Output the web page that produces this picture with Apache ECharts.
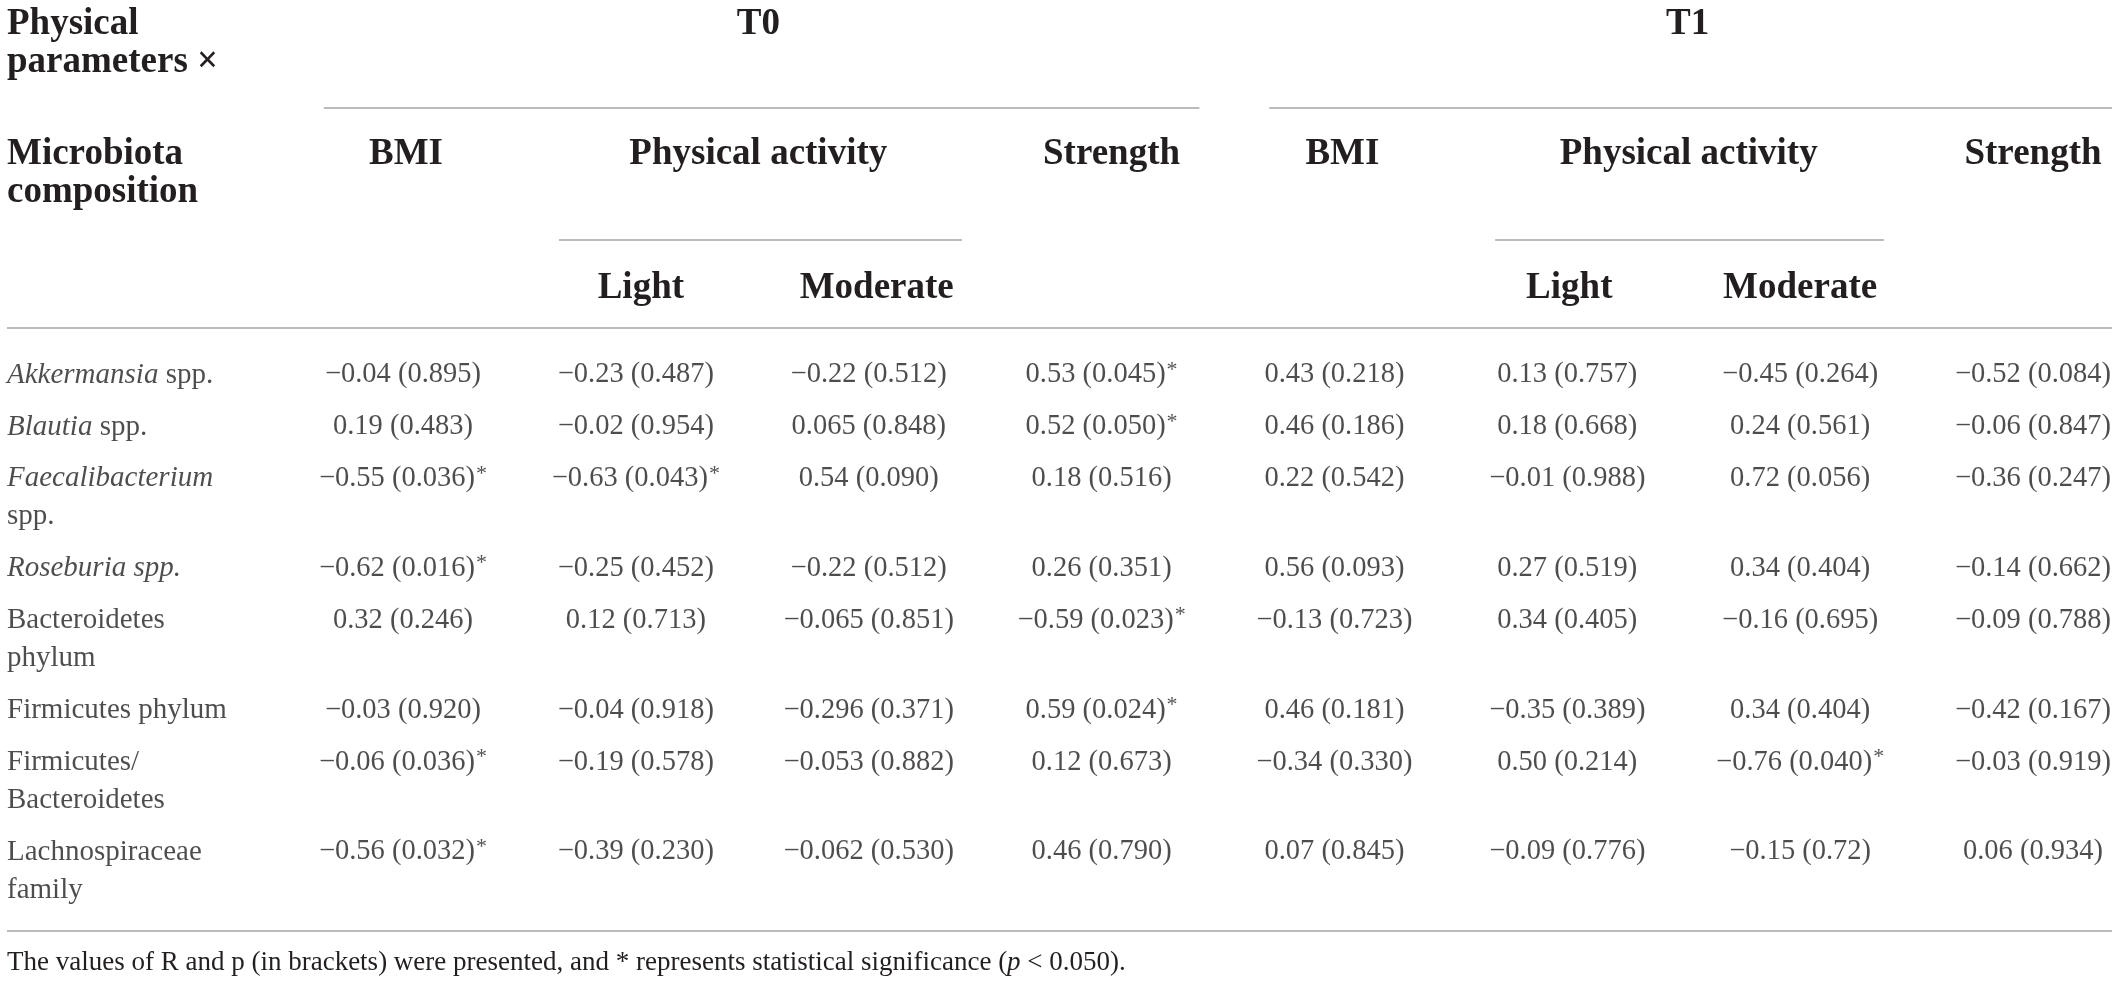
<!DOCTYPE html>
<html>
<head>
<meta charset="utf-8">
<script src="https://cdn.jsdelivr.net/npm/echarts@6/dist/echarts.min.js"></script>
<style>
  html, body { margin: 0; padding: 0; background: #fff; }
  #main { width: 2118px; height: 984px; }
</style>
</head>
<body>
<div id="main"></div>
<script>
// columns of the table
const columns = ['T0 BMI', 'T0 Light', 'T0 Moderate', 'T0 Strength', 'T1 BMI', 'T1 Light', 'T1 Moderate', 'T1 Strength'];

// row labels ({i|...} = italic)
const rowLabels = [
    '{i|Akkermansia} spp.',
    '{i|Blautia} spp.',
    '{i|Faecalibacterium}\nspp.',
    '{i|Roseburia spp.}',
    'Bacteroidetes\nphylum',
    'Firmicutes phylum',
    'Firmicutes/\nBacteroidetes',
    'Lachnospiraceae\nfamily'
];

// R (p), * = significant
const t0Bmi = ['−0.04 (0.895)', '0.19 (0.483)', '−0.55 (0.036)*', '−0.62 (0.016)*', '0.32 (0.246)', '−0.03 (0.920)', '−0.06 (0.036)*', '−0.56 (0.032)*'];
const t0Light = ['−0.23 (0.487)', '−0.02 (0.954)', '−0.63 (0.043)*', '−0.25 (0.452)', '0.12 (0.713)', '−0.04 (0.918)', '−0.19 (0.578)', '−0.39 (0.230)'];
const t0Moderate = ['−0.22 (0.512)', '0.065 (0.848)', '0.54 (0.090)', '−0.22 (0.512)', '−0.065 (0.851)', '−0.296 (0.371)', '−0.053 (0.882)', '−0.062 (0.530)'];
const t0Strength = ['0.53 (0.045)*', '0.52 (0.050)*', '0.18 (0.516)', '0.26 (0.351)', '−0.59 (0.023)*', '0.59 (0.024)*', '0.12 (0.673)', '0.46 (0.790)'];
const t1Bmi = ['0.43 (0.218)', '0.46 (0.186)', '0.22 (0.542)', '0.56 (0.093)', '−0.13 (0.723)', '0.46 (0.181)', '−0.34 (0.330)', '0.07 (0.845)'];
const t1Light = ['0.13 (0.757)', '0.18 (0.668)', '−0.01 (0.988)', '0.27 (0.519)', '0.34 (0.405)', '−0.35 (0.389)', '0.50 (0.214)', '−0.09 (0.776)'];
const t1Moderate = ['−0.45 (0.264)', '0.24 (0.561)', '0.72 (0.056)', '0.34 (0.404)', '−0.16 (0.695)', '0.34 (0.404)', '−0.76 (0.040)*', '−0.15 (0.72)'];
const t1Strength = ['−0.52 (0.084)', '−0.06 (0.847)', '−0.36 (0.247)', '−0.14 (0.662)', '−0.09 (0.788)', '−0.42 (0.167)', '−0.03 (0.919)', '0.06 (0.934)'];

const columnValues = [t0Bmi, t0Light, t0Moderate, t0Strength, t1Bmi, t1Light, t1Moderate, t1Strength];

const FONT = 'Liberation Serif';
const INK = '#231f20';
const RULE = '#a4a4a4';
const LINE_H = 38;
const ROW_GAP = 0.37;   // padding between rows, in lines
const HEAD_FONT = 'bold 37px "' + FONT + '"';

// row position = lines used by the rows above
const rowPos = [];
let acc = 0;
rowLabels.forEach(function (l) {
    rowPos.push(acc);
    acc += l.split('\n').length + ROW_GAP;
});
const yMax = rowPos[rowPos.length - 1];

const cellData = [];
columns.forEach(function (c, ci) {
    columnValues[ci].forEach(function (v, ri) {
        cellData.push([c, rowPos[ri], v]);
    });
});
const labelData = rowLabels.map(function (l, ri) { return [0, rowPos[ri], l]; });

function cellText(v) {
    if (v.charAt(v.length - 1) === '*') {
        return '{v|' + v.slice(0, -1) + '}{s|*}';
    }
    return '{v|' + v + '}';
}

const chart = echarts.init(document.getElementById('main'));
chart.setOption({
    animation: false,
    backgroundColor: '#fff',
    grid: [
        { left: 403, right: 85, top: 375, bottom: 132 },
        { left: 7, width: 300, top: 375, bottom: 132 }
    ],
    xAxis: [
        { type: 'category', data: columns, boundaryGap: false, show: false, gridIndex: 0 },
        { type: 'value', min: 0, max: 1, show: false, gridIndex: 1 }
    ],
    yAxis: [
        { type: 'value', inverse: true, min: 0, max: yMax, show: false, gridIndex: 0 },
        { type: 'value', inverse: true, min: 0, max: yMax, show: false, gridIndex: 1 }
    ],
    series: [
        {
            name: 'cells',
            type: 'scatter',
            xAxisIndex: 0,
            yAxisIndex: 0,
            symbolSize: 0,
            silent: true,
            data: cellData,
            label: {
                show: true,
                position: 'inside',
                formatter: function (p) { return cellText(p.data[2]); },
                rich: {
                    v: { fontFamily: FONT, fontSize: 28.5, color: INK },
                    s: { fontFamily: FONT, fontSize: 22, color: INK, verticalAlign: 'top', padding: [0, 0, 10, 1] }
                }
            }
        },
        {
            name: 'rows',
            type: 'scatter',
            xAxisIndex: 1,
            yAxisIndex: 1,
            symbolSize: 0,
            silent: true,
            data: labelData,
            label: {
                show: true,
                position: 'right',
                distance: 0,
                align: 'left',
                verticalAlign: 'top',
                offset: [0, -LINE_H / 2],
                fontFamily: FONT,
                fontSize: 29,
                color: INK,
                lineHeight: LINE_H,
                formatter: function (p) { return p.data[2]; },
                rich: {
                    i: { fontFamily: FONT, fontSize: 29, fontStyle: 'italic', color: INK, lineHeight: LINE_H }
                }
            }
        }
    ]
});

// header and rules, placed from the column axis
const px = function (name) { return chart.convertToPixel({ xAxisIndex: 0 }, name); };
const step = px(columns[1]) - px(columns[0]);
const W = chart.getWidth();
const HEAD = { groupY: 24, mainY: 154, subY: 288, groupRule: 108, subRule: 240, topRule: 328, bottomRule: 931, noteY: 963 };

function headText(text, x, y) {
    return {
        type: 'text', x: x, y: y, silent: true,
        style: { text: text, fill: INK, font: HEAD_FONT, align: 'center', verticalAlign: 'middle' }
    };
}
function rule(x1, x2, y) {
    return {
        type: 'line', silent: true,
        shape: { x1: x1, y1: y, x2: x2, y2: y },
        style: { stroke: RULE, lineWidth: 1.6 }
    };
}

const t0Mid = (px(columns[0]) + px(columns[3])) / 2;
const t1Mid = (px(columns[4]) + px(columns[7])) / 2;
const pa0Mid = (px(columns[1]) + px(columns[2])) / 2;
const pa1Mid = (px(columns[5]) + px(columns[6])) / 2;

const elements = [
    {
        type: 'text', x: 7, y: HEAD.groupY - LINE_H / 2, silent: true,
        style: { text: 'Physical\nparameters ×', fill: INK, font: HEAD_FONT, lineHeight: LINE_H, align: 'left', verticalAlign: 'top' }
    },
    {
        type: 'text', x: 7, y: HEAD.mainY - LINE_H / 2, silent: true,
        style: { text: 'Microbiota\ncomposition', fill: INK, font: HEAD_FONT, lineHeight: LINE_H, align: 'left', verticalAlign: 'top' }
    },
    headText('T0', t0Mid + 6, HEAD.groupY),
    headText('T1', t1Mid + 4, HEAD.groupY),
    headText('BMI', px(columns[0]) + 3, HEAD.mainY),
    headText('Physical activity', pa0Mid + 6, HEAD.mainY),
    headText('Strength', px(columns[3]) + 10, HEAD.mainY),
    headText('BMI', px(columns[4]) + 8, HEAD.mainY),
    headText('Physical activity', pa1Mid + 5, HEAD.mainY),
    headText('Strength', px(columns[7]), HEAD.mainY),
    headText('Light', px(columns[1]) + 5, HEAD.subY),
    headText('Moderate', px(columns[2]) + 8, HEAD.subY),
    headText('Light', px(columns[5]) + 2, HEAD.subY),
    headText('Moderate', px(columns[6]), HEAD.subY),
    rule(t0Mid - 1.84 * step, t0Mid + 1.92 * step, HEAD.groupRule),
    rule(t1Mid - 1.78 * step, W - 6, HEAD.groupRule),
    rule(pa0Mid - 0.83 * step, pa0Mid + 0.9 * step, HEAD.subRule),
    rule(pa1Mid - 0.81 * step, pa1Mid + 0.86 * step, HEAD.subRule),
    rule(7, W - 6, HEAD.topRule),
    rule(7, W - 6, HEAD.bottomRule),
    {
        type: 'text', x: 7, y: HEAD.noteY, silent: true,
        style: {
            text: 'The values of R and p (in brackets) were presented, and * represents statistical significance ({i|p} < 0.050).',
            fill: INK, fontFamily: FONT, fontSize: 27, align: 'left', verticalAlign: 'middle',
            rich: { i: { fontFamily: FONT, fontSize: 27, fontStyle: 'italic', fill: INK } }
        }
    }
];
chart.setOption({ graphic: { elements: elements } });
</script>
</body>
</html>
